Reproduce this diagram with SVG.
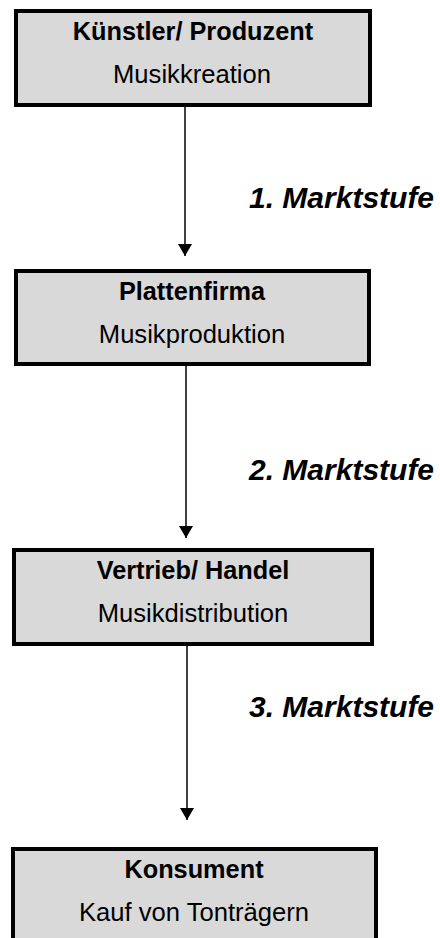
<svg xmlns="http://www.w3.org/2000/svg" width="440" height="938" viewBox="0 0 440 938">
<style>
.box{fill:#d9d9d9;stroke:#000;stroke-width:4}
.t{font-family:"Liberation Sans",Arial,sans-serif;font-size:25.3px;font-weight:bold;text-anchor:middle;fill:#000}
.s{font-family:"Liberation Sans",Arial,sans-serif;font-size:25.6px;text-anchor:middle;fill:#000}
.m{font-family:"Liberation Sans",Arial,sans-serif;font-size:30px;font-weight:bold;font-style:italic;fill:#000}
.c{stroke:#000;stroke-width:1.5;fill:none}
</style>
<defs>
<marker id="ah" markerWidth="12" markerHeight="14" refX="12" refY="7" orient="auto" markerUnits="userSpaceOnUse" viewBox="0 0 12 14">
<path d="M0,0 L12,7 L0,14 Z" fill="#000"/>
</marker>
</defs>
<rect width="440" height="938" fill="#fff"/>
<g id="connectors">
<line class="c" x1="185" y1="105" x2="185" y2="256" marker-end="url(#ah)"/>
<line class="c" x1="186" y1="364" x2="186" y2="538" marker-end="url(#ah)"/>
<line class="c" x1="187" y1="644" x2="187" y2="820" marker-end="url(#ah)"/>
</g>
<g id="n1">
<rect class="box" x="16" y="11" width="354" height="94"/>
<text class="t" x="193" y="40">Künstler/ Produzent</text>
<text class="s" x="192" y="83">Musikkreation</text>
</g>
<g id="n2">
<rect class="box" x="16" y="271" width="353" height="93"/>
<text class="t" x="192" y="300">Plattenfirma</text>
<text class="s" x="192" y="343">Musikproduktion</text>
</g>
<g id="n3">
<rect class="box" x="14" y="550" width="358" height="94"/>
<text class="t" x="193" y="579">Vertrieb/ Handel</text>
<text class="s" x="193" y="622">Musikdistribution</text>
</g>
<g id="n4">
<rect class="box" x="13" y="849" width="363" height="100"/>
<text class="t" x="194" y="878">Konsument</text>
<text class="s" x="194" y="921">Kauf von Tonträgern</text>
</g>
<g id="labels">
<text class="m" x="249" y="208">1.  Marktstufe</text>
<text class="m" x="249" y="480">2.  Marktstufe</text>
<text class="m" x="249" y="717">3.  Marktstufe</text>
</g>
</svg>
